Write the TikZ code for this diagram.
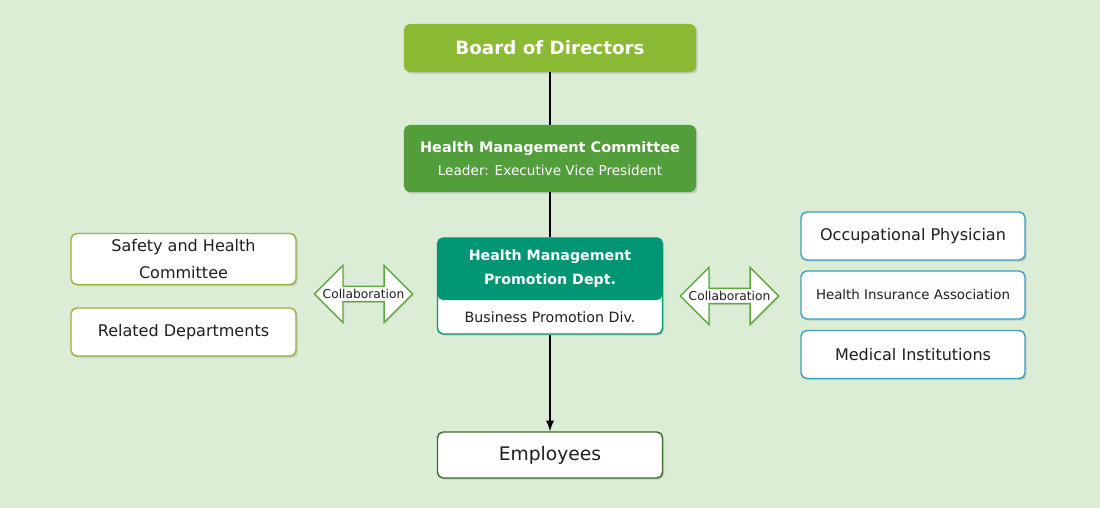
\documentclass[tikz,border=0pt]{standalone}
\usepackage{fontspec}
\setmainfont{DejaVu Sans}
\usepackage{tikz}
\usetikzlibrary{arrows,shapes.arrows,shadows}
\definecolor{bgcol}{RGB}{219,238,213}
\definecolor{boardcol}{RGB}{139,186,53}
\definecolor{hmccol}{RGB}{82,158,58}
\definecolor{hmpdcol}{RGB}{0,150,115}
\definecolor{leftcol}{RGB}{155,175,60}
\definecolor{rightcol}{RGB}{60,157,196}
\definecolor{empcol}{RGB}{61,107,46}
\definecolor{collabcol}{RGB}{95,168,62}
\definecolor{txtcol}{RGB}{30,30,30}
\tikzset{
  box/.style={rectangle, rounded corners=4pt, inner sep=0pt, align=center,
    drop shadow={opacity=0.3, shadow xshift=1.2pt, shadow yshift=-1.2pt}},
  greenbox/.style={box, text=white, font=\bfseries},
  whitebox/.style={box, fill=white, line width=1pt, text=txtcol},
  leftbox/.style={whitebox, draw=leftcol, minimum width=5.625cm},
  rightbox/.style={whitebox, draw=rightcol, minimum width=5.6cm, minimum height=1.2cm},
  collab/.style={double arrow, draw=collabcol, fill=white, line width=1pt,
    minimum height=2.375cm, minimum width=1.425cm, double arrow head extend=0.375cm,
    inner sep=0pt, text=txtcol, font=\fontsize{8.7}{10}\selectfont,
    drop shadow={opacity=0.2, shadow xshift=1pt, shadow yshift=-1pt}},
  link/.style={line width=1.6pt, black}
}
\begin{document}
\begin{tikzpicture}[x=0.025cm, y=-0.025cm]
\fill[bgcol] (0,0) rectangle (1100,508);
\useasboundingbox (0,0) rectangle (1100,508);

% centre column
\node[greenbox, fill=boardcol, minimum width=7.3cm, minimum height=1.2cm,
  font=\fontsize{13}{15}\selectfont\bfseries] (board) at (550,48) {Board of Directors};
\node[greenbox, fill=hmccol, minimum width=7.3cm, minimum height=1.675cm] (hmc) at (550,158.5)
  {{\fontsize{10.3}{13}\selectfont\bfseries Health Management Committee}\\[4pt]
   {\fontsize{9.7}{12}\selectfont\mdseries Leader: Executive Vice President}};
\node[whitebox, draw=hmpdcol, minimum width=5.625cm, minimum height=2.4cm,
  path picture={\fill[hmpdcol] (path picture bounding box.north west)
    rectangle ([yshift=0.85cm]path picture bounding box.south east);}] (hmpd) at (550,286) {};
\node[text=white, align=center, font=\fontsize{10.1}{17}\selectfont\bfseries] (hmpdtitle) at (550,269)
  {Health Management\\Promotion Dept.};
\node[text=txtcol, font=\fontsize{10.1}{12}\selectfont] (hmpdsub) at (550,317) {Business Promotion Div.};
\node[whitebox, draw=empcol, minimum width=5.625cm, minimum height=1.15cm,
  font=\fontsize{13.3}{15}\selectfont] (emp) at (550,455) {Employees};

% left side
\node[leftbox, minimum height=1.275cm, font=\fontsize{11.4}{19.5}\selectfont] (safety) at (183.5,259)
  {Safety and Health\\Committee};
\node[leftbox, minimum height=1.2cm, font=\fontsize{11.4}{14}\selectfont] (related) at (183.5,332)
  {Related Departments};

% right side
\node[rightbox, font=\fontsize{11.4}{14}\selectfont] (occup) at (913,236) {Occupational Physician};
\node[rightbox, font=\fontsize{9.5}{12}\selectfont] (hia) at (913,295) {Health Insurance Association};
\node[rightbox, font=\fontsize{11.4}{14}\selectfont] (medical) at (913,354.5) {Medical Institutions};

% collaboration arrows
\node[collab] (collabL) at (363.5,294) {Collaboration};
\node[collab] (collabR) at (729.5,296) {Collaboration};

% connectors
\draw[link] (board) -- (hmc);
\draw[link] (hmc) -- (hmpd);
\draw[link, -latex] (hmpd) -- (emp);
\end{tikzpicture}
\end{document}
